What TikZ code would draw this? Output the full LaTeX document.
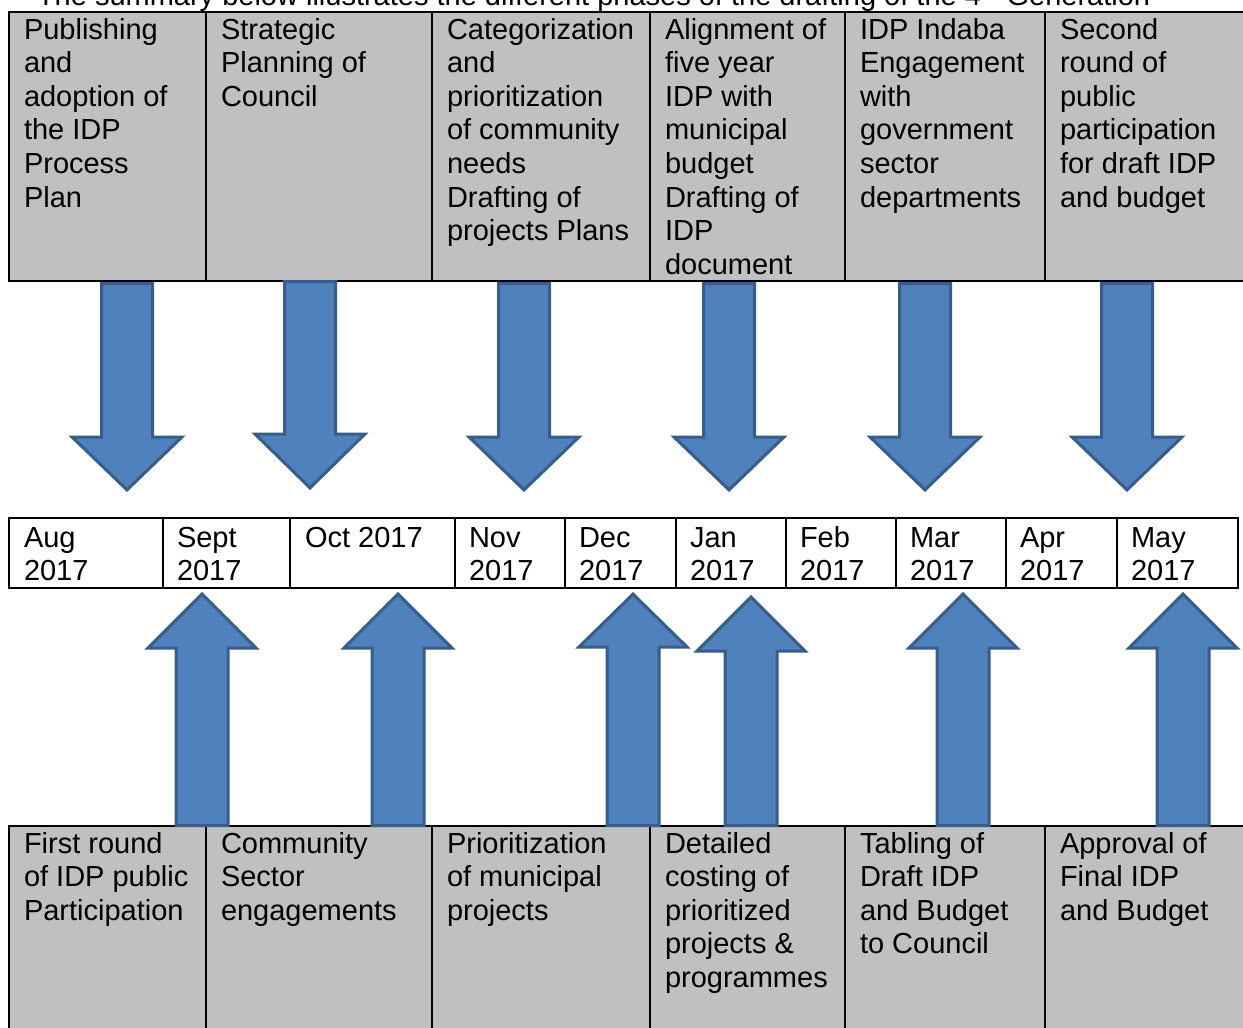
\documentclass[tikz,border=0pt]{standalone}
\usepackage{fontspec}
\setmainfont{Liberation Sans}
\definecolor{cellgray}{HTML}{C0C0C0}
\definecolor{arrfill}{HTML}{4F81BD}
\definecolor{arrline}{HTML}{385D8A}
\tikzset{
  cellbox/.style={draw=black, line width=2pt, fill=cellgray, anchor=north west, inner sep=0pt, outer sep=0pt},
  monthbox/.style={draw=black, line width=2pt, fill=white, anchor=north west, inner sep=0pt, outer sep=0pt, minimum height=70pt},
  txt/.style={anchor=north west, inner sep=0pt, outer sep=0pt, align=left, text=black, font=\fontsize{29}{33.6}\selectfont},
  blockarrow/.style={fill=arrfill, draw=arrline, line width=3pt, line join=miter}
}
\newcommand\DArrow[4]{% center, top, headbase, tip
  \draw[blockarrow] ({#1-25.5},{#2+1.5}) -- ({#1+25.5},{#2+1.5}) -- ({#1+25.5},#3) -- ({#1+55},#3) -- (#1,{#4-2.1}) -- ({#1-55},#3) -- ({#1-25.5},#3) -- cycle;}
\newcommand\UArrow[4]{% center, bottom, headbase, tip
  \draw[blockarrow] ({#1-26},{#2-1.5}) -- ({#1+26},{#2-1.5}) -- ({#1+26},#3) -- ({#1+54},#3) -- (#1,{#4+2.1}) -- ({#1-54},#3) -- ({#1-26},#3) -- cycle;}
\begin{document}
\begin{tikzpicture}[x=1pt,y=-1pt]
\useasboundingbox (0,0) rectangle (1243,1028);
\clip (0,0) rectangle (1243,1028);
\fill[white] (0,0) rectangle (1243,1028);

% header line (cut off at the top)
\node[txt] (hd) at (37,{5-23.5}) {\strut The summary below illustrates the different phases of the drafting of the 4\textsuperscript{th} Generation};

% top table
\node[cellbox, minimum width=197pt, minimum height=269pt] (t1) at (9,12) {};
\node[cellbox, minimum width=226pt, minimum height=269pt] (t2) at (206,12) {};
\node[cellbox, minimum width=218pt, minimum height=269pt] (t3) at (432,12) {};
\node[cellbox, minimum width=195pt, minimum height=269pt] (t4) at (650,12) {};
\node[cellbox, minimum width=200pt, minimum height=269pt] (t5) at (845,12) {};
\node[cellbox, minimum width=210pt, minimum height=269pt] (t6) at (1045,12) {};

\node[txt] (tt1) at (24,{39-23.5}) {\strut Publishing\\and\\adoption of\\the IDP\\Process\\Plan};
\node[txt] (tt2) at (221,{39-23.5}) {\strut Strategic\\Planning of\\Council};
\node[txt] (tt3) at (447,{39-23.5}) {\strut Categorization\\and\\prioritization\\of community\\needs\\Drafting of\\projects Plans};
\node[txt] (tt4) at (665,{39-23.5}) {\strut Alignment of\\five year\\IDP with\\municipal\\budget\\Drafting of\\IDP\\document};
\node[txt] (tt5) at (860,{39-23.5}) {\strut IDP Indaba\\Engagement\\with\\government\\sector\\departments};
\node[txt] (tt6) at (1060,{39-23.5}) {\strut Second\\round of\\public\\participation\\for draft IDP\\and budget};

% month row
\node[monthbox, minimum width=154pt] (m1) at (9,518) {};
\node[monthbox, minimum width=127pt] (m2) at (163,518) {};
\node[monthbox, minimum width=165pt] (m3) at (290,518) {};
\node[monthbox, minimum width=110pt] (m4) at (455,518) {};
\node[monthbox, minimum width=111pt] (m5) at (565,518) {};
\node[monthbox, minimum width=110pt] (m6) at (676,518) {};
\node[monthbox, minimum width=110pt] (m7) at (786,518) {};
\node[monthbox, minimum width=110pt] (m8) at (896,518) {};
\node[monthbox, minimum width=111pt] (m9) at (1006,518) {};
\node[monthbox, minimum width=121pt] (m10) at (1117,518) {};

\node[txt] (mt1) at (24,{547-23.5}) {\strut Aug\\2017};
\node[txt] (mt2) at (177,{547-23.5}) {\strut Sept\\2017};
\node[txt] (mt3) at (305,{547-23.5}) {\strut Oct 2017};
\node[txt] (mt4) at (469,{547-23.5}) {\strut Nov\\2017};
\node[txt] (mt5) at (579,{547-23.5}) {\strut Dec\\2017};
\node[txt] (mt6) at (690,{547-23.5}) {\strut Jan\\2017};
\node[txt] (mt7) at (800,{547-23.5}) {\strut Feb\\2017};
\node[txt] (mt8) at (910,{547-23.5}) {\strut Mar\\2017};
\node[txt] (mt9) at (1020,{547-23.5}) {\strut Apr\\2017};
\node[txt] (mt10) at (1131,{547-23.5}) {\strut May\\2017};

% bottom table
\node[cellbox, minimum width=197pt, minimum height=215pt] (b1) at (9,826) {};
\node[cellbox, minimum width=226pt, minimum height=215pt] (b2) at (206,826) {};
\node[cellbox, minimum width=218pt, minimum height=215pt] (b3) at (432,826) {};
\node[cellbox, minimum width=195pt, minimum height=215pt] (b4) at (650,826) {};
\node[cellbox, minimum width=200pt, minimum height=215pt] (b5) at (845,826) {};
\node[cellbox, minimum width=210pt, minimum height=215pt] (b6) at (1045,826) {};

\node[txt] (bt1) at (24,{853-23.5}) {\strut First round\\of IDP public\\Participation};
\node[txt] (bt2) at (221,{853-23.5}) {\strut Community\\Sector\\engagements};
\node[txt] (bt3) at (447,{853-23.5}) {\strut Prioritization\\of municipal\\projects};
\node[txt] (bt4) at (665,{853-23.5}) {\strut Detailed\\costing of\\prioritized\\projects \&\\programmes};
\node[txt] (bt5) at (860,{853-23.5}) {\strut Tabling of\\Draft IDP\\and Budget\\to Council};
\node[txt] (bt6) at (1060,{853-23.5}) {\strut Approval of\\Final IDP\\and Budget};

% down arrows
\DArrow{127}{282}{437}{492}
\DArrow{310}{280}{434}{490}
\DArrow{524}{282}{437}{492}
\DArrow{729}{282}{437}{492}
\DArrow{925}{282}{437}{492}
\DArrow{1127}{282}{437}{492}

% up arrows
\UArrow{202}{827}{648}{592}
\UArrow{398}{827}{648}{592}
\UArrow{633}{827}{647}{592}
\UArrow{751}{827}{651}{595}
\UArrow{963}{827}{648}{592}
\UArrow{1183}{827}{648}{592}
\end{tikzpicture}
\end{document}
